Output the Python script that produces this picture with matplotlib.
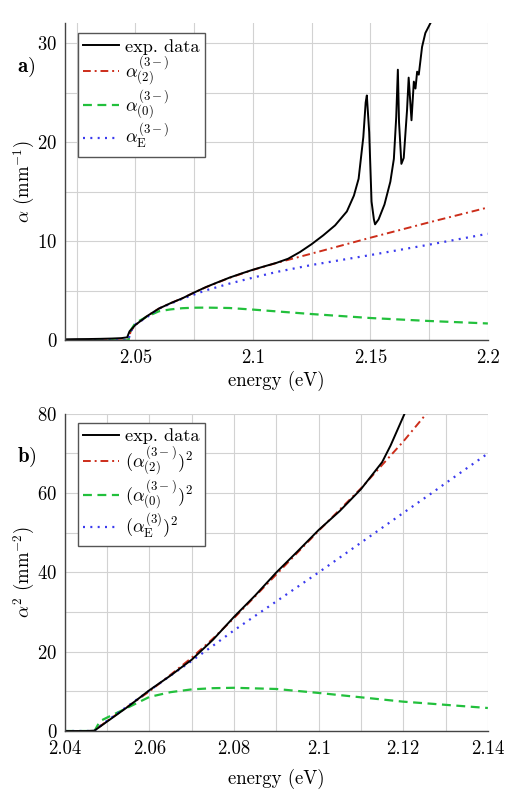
import matplotlib
matplotlib.use("Agg")
import matplotlib.pyplot as plt
from matplotlib.ticker import MultipleLocator

plt.rcParams['font.family'] = ['cmr10', 'DejaVu Serif']
plt.rcParams['mathtext.fontset'] = 'cm'
plt.rcParams['axes.formatter.use_mathtext'] = True
plt.rcParams['font.size'] = 13.5

# ---------------- panel a data ----------------
E_exp_a = [2.020, 2.025, 2.030, 2.035, 2.040, 2.044, 2.0465, 2.0475, 2.050, 2.055,
           2.060, 2.065, 2.070, 2.075, 2.080, 2.085, 2.090, 2.095, 2.100, 2.105,
           2.110, 2.115, 2.120, 2.125, 2.130, 2.135, 2.140, 2.143, 2.145, 2.147,
           2.148, 2.1485, 2.1495, 2.1505, 2.1515, 2.152, 2.1535, 2.156, 2.1585, 2.160,
           2.161, 2.1617, 2.1622, 2.1632, 2.1642, 2.1656, 2.1663, 2.1675, 2.1685, 2.1692,
           2.1699, 2.1706, 2.172, 2.1734, 2.176, 2.178]
a_exp = [0.10, 0.12, 0.13, 0.15, 0.18, 0.22, 0.30, 0.9, 1.55, 2.45,
         3.2, 3.75, 4.24, 4.82, 5.37, 5.85, 6.32, 6.73, 7.12, 7.47,
         7.81, 8.23, 8.9, 9.7, 10.6, 11.6, 13.0, 14.6, 16.3, 20.5,
         24.0, 24.7, 21.0, 14.0, 12.2, 11.7, 12.2, 13.7, 16.0, 18.3,
         22.5, 27.3, 22.0, 17.8, 18.4, 23.2, 26.5, 22.2, 26.1, 25.4,
         27.1, 26.8, 29.6, 31.0, 32.2, 33.5]

E_mod_a = [2.020, 2.047, 2.048, 2.050, 2.055, 2.060, 2.065, 2.070, 2.075, 2.080,
           2.090, 2.100, 2.110, 2.125, 2.150, 2.175, 2.200]
a_2 = [0.0, 0.0, 0.9, 1.55, 2.45, 3.2, 3.75, 4.24, 4.82, 5.35,
       6.3, 7.1, 7.8, 8.75, 10.35, 11.9, 13.4]
a_0 = [0.0, 0.0, 1.0, 1.75, 2.4, 2.93, 3.12, 3.24, 3.29, 3.30,
       3.26, 3.1, 2.92, 2.65, 2.25, 1.95, 1.7]
a_E = [0.0, 0.0, 0.9, 1.6, 2.35, 3.2, 3.7, 4.2, 4.62, 5.04,
       5.72, 6.32, 6.89, 7.6, 8.6, 9.65, 10.75]

# ---------------- panel b data ----------------
E_exp_b = [2.040, 2.045, 2.047, 2.050, 2.055, 2.060, 2.065, 2.070, 2.075, 2.080,
           2.085, 2.090, 2.095, 2.100, 2.105, 2.110, 2.115, 2.117, 2.1203, 2.121]
b_exp = [0.0, 0.0, 0.1, 2.4, 6.2, 10.3, 14.0, 18.0, 23.0, 28.8,
         34.2, 40.0, 45.3, 50.7, 55.5, 61.0, 67.8, 72.0, 80.0, 82.0]

E_mod_b = [2.040, 2.047, 2.0483, 2.050, 2.0537, 2.060, 2.065, 2.070, 2.075, 2.080,
           2.090, 2.100, 2.110, 2.120, 2.127, 2.130, 2.140]
b_2 = [0.0, 0.0, 1.2, 2.5, 5.3, 10.0, 14.2, 18.5, 23.3, 28.5,
       39.5, 50.5, 61.2, 73.0, 82.0, 86.0, 98.0]
b_0 = [0.0, 0.0, 2.5, 3.4, 5.3, 8.6, 9.8, 10.5, 10.8, 10.9,
       10.6, 9.6, 8.5, 7.4, 6.85, 6.6, 5.8]
b_E = [0.0, 0.0, 1.2, 2.6, 5.4, 10.2, 14.0, 17.7, 21.5, 25.4,
       32.7, 40.0, 47.5, 55.0, 60.2, 62.5, 70.0]

labels_a = ['exp. data', r'$\alpha_{(2)}^{(3-)}$', r'$\alpha_{(0)}^{(3-)}$', r'$\alpha_{\mathrm{E}}^{(3-)}$']
labels_b = ['exp. data', r'$(\alpha_{(2)}^{(3-)})^2$', r'$(\alpha_{(0)}^{(3-)})^2$', r'$(\alpha_{\mathrm{E}}^{(3)})^2$']

C_BLACK = '#000000'
C_RED = '#cc2d1a'
C_GREEN = '#22c03c'
C_BLUE = '#3a3aee'

fig = plt.figure(figsize=(5.19, 7.97), dpi=100)
axA = fig.add_axes([0.125, 0.573, 0.815, 0.398])
axB = fig.add_axes([0.125, 0.0828, 0.815, 0.398])


def style(ax):
    for s in ['top', 'right']:
        ax.spines[s].set_visible(False)
    for s in ['left', 'bottom']:
        ax.spines[s].set_color('#444444')
        ax.spines[s].set_linewidth(1.0)
        ax.spines[s].set_zorder(5)
    ax.grid(True, which='both', color='#d2d2d2', lw=0.8)
    ax.set_axisbelow(True)
    ax.tick_params(which='both', length=0, labelsize=13.5)
    ax.tick_params(axis='y', pad=5.5)
    ax.tick_params(axis='x', pad=6.5)


def draw(ax, Ee, ye, Em, y2, y0, yE, labels, anchor):
    ax.plot(Ee, ye, color=C_BLACK, lw=1.4, label=labels[0], zorder=4)
    ax.plot(Em, y2, color=C_RED, lw=1.4, ls=(0, (4, 2, 1, 2)), label=labels[1], zorder=3)
    ax.plot(Em, y0, color=C_GREEN, lw=1.6, ls=(0, (4, 2.5)), label=labels[2], zorder=3)
    ax.plot(Em, yE, color=C_BLUE, lw=1.6, ls=(0, (0.9, 2.4)), label=labels[3], zorder=3)
    leg = ax.legend(loc='upper left', bbox_to_anchor=anchor, fontsize=13.2,
                    frameon=True, fancybox=False, framealpha=1,
                    edgecolor='#555555', handlelength=1.95,
                    borderaxespad=0, labelspacing=0.0, handletextpad=0.3,
                    borderpad=0.3)
    leg.get_frame().set_linewidth(1.0)
    return leg


# panel a
draw(axA, E_exp_a, a_exp, E_mod_a, a_2, a_0, a_E, labels_a, (0.031, 0.968))
axA.set_xlim(2.02, 2.2)
axA.set_ylim(0, 32)
axA.set_xticks([2.05, 2.1, 2.15, 2.2])
axA.set_xticklabels(['2.05', '2.1', '2.15', '2.2'])
axA.xaxis.set_minor_locator(MultipleLocator(0.025))
axA.set_yticks([0, 10, 20, 30])
axA.yaxis.set_minor_locator(MultipleLocator(5))
style(axA)
axA.set_xlabel('energy (eV)')
axA.xaxis.set_label_coords(0.5, -0.095)
axA.set_ylabel(r'$\alpha$ (mm$^{-1}$)')
axA.yaxis.set_label_coords(-0.066, 0.5)

# panel b
draw(axB, E_exp_b, b_exp, E_mod_b, b_2, b_0, b_E, labels_b, (0.031, 0.972))
axB.set_xlim(2.04, 2.14)
axB.set_ylim(0, 80)
axB.set_xticks([2.04, 2.06, 2.08, 2.1, 2.12, 2.14])
axB.set_xticklabels(['2.04', '2.06', '2.08', '2.1', '2.12', '2.14'])
axB.xaxis.set_minor_locator(MultipleLocator(0.01))
axB.set_yticks([0, 20, 40, 60, 80])
axB.yaxis.set_minor_locator(MultipleLocator(10))
style(axB)
axB.set_xlabel('energy (eV)')
axB.xaxis.set_label_coords(0.5, -0.12)
axB.set_ylabel(r'$\alpha^2$ (mm$^{-2}$)')
axB.yaxis.set_label_coords(-0.066, 0.5)

fig.text(0.032, 1 - 67 / 797, r'$\mathbf{a}$)', fontsize=15, va='center', ha='left')
fig.text(0.032, 1 - 457 / 797, r'$\mathbf{b}$)', fontsize=15, va='center', ha='left')

fig.savefig('out.png', dpi=100)
